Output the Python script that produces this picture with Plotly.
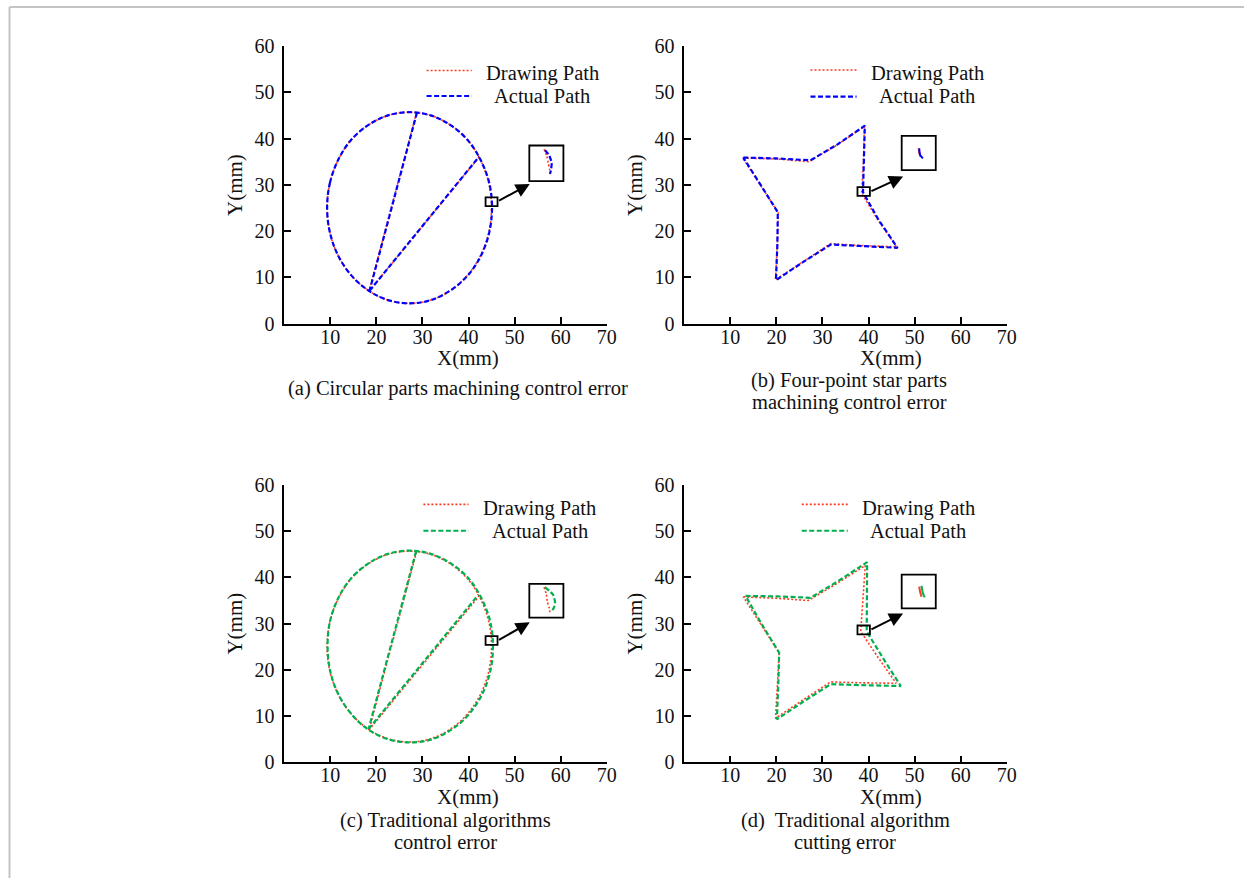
import plotly.graph_objects as go

W, H = 1244, 878
FONT = "Liberation Serif"
RED = "#FF3B1F"
BLUE = "#0000FF"
GREEN = "#00B050"

x_ticks = [10, 20, 30, 40, 50, 60, 70]
y_ticks = [0, 10, 20, 30, 40, 50, 60]

# ---- (a) circular part: drawing path and actual path (ellipse + two chords)
circ_draw_x = [9.3, 9.9, 11.7, 14.5, 18.2, 22.5, 27.2, 31.8, 36.1, 39.8, 42.6, 44.4, 45.0,
               44.4, 42.6, 39.8, 36.1, 31.8, 27.2, 22.5, 18.2, 14.5, 11.7, 9.9, 9.3,
               None, 28.7, 18.4, None, 18.4, 42.3]
circ_draw_y = [25.1, 30.4, 35.4, 39.7, 42.9, 45.0, 45.7, 45.0, 42.9, 39.7, 35.4, 30.4, 25.1,
               19.7, 14.7, 10.5, 7.2, 5.1, 4.4, 5.1, 7.2, 10.5, 14.7, 19.7, 25.1,
               None, 45.5, 7.0, None, 7.0, 36.0]
circ_act_x = [9.3, 9.9, 11.7, 14.5, 18.2, 22.5, 27.2, 31.8, 36.1, 39.8, 42.6, 44.5, 45.1,
              44.5, 42.7, 39.9, 36.1, 31.8, 27.2, 22.5, 18.2, 14.5, 11.7, 9.9, 9.3,
              None, 28.8, 18.5, None, 18.5, 42.3]
circ_act_y = [25.1, 30.4, 35.4, 39.7, 42.9, 45.0, 45.7, 45.0, 42.9, 39.7, 35.4, 30.4, 25.1,
              19.7, 14.7, 10.5, 7.2, 5.1, 4.4, 5.1, 7.2, 10.5, 14.7, 19.7, 25.1,
              None, 45.6, 7.1, None, 7.1, 36.1]
# (c) traditional algorithm actual path on the circular part
circ_trad_x = [9.4, 9.9, 11.7, 14.5, 18.2, 22.5, 27.2, 31.8, 36.2, 40.0, 42.8, 44.7, 45.3,
               44.7, 42.9, 40.0, 36.2, 31.8, 27.2, 22.5, 18.2, 14.6, 11.8, 10.0, 9.4,
               None, 28.6, 18.3, None, 18.3, 42.1]
circ_trad_y = [25.0, 30.4, 35.5, 39.8, 43.0, 45.1, 45.8, 45.1, 43.0, 39.8, 35.5, 30.5, 25.0,
               19.6, 14.6, 10.3, 7.0, 4.9, 4.3, 5.0, 7.1, 10.4, 14.6, 19.6, 25.0,
               None, 45.6, 7.2, None, 7.2, 36.2]

# ---- (b) four-point star
star_draw_x = [12.7, 20.0, 27.0, 33.0, 39.1, 38.9, 38.5, 42.0, 46.1, 38.0, 31.8, 25.5, 19.8, 20.2, 20.4, 16.5, 12.7]
star_draw_y = [35.8, 35.6, 35.0, 38.5, 42.6, 35.0, 28.2, 22.5, 16.6, 16.9, 17.3, 13.3, 9.5, 17.0, 24.0, 30.0, 35.8]
star_act_x = [12.8, 20.0, 27.4, 33.2, 39.2, 39.0, 38.8, 42.2, 46.3, 38.0, 31.8, 25.6, 19.9, 20.2, 20.3, 16.5, 12.8]
star_act_y = [35.9, 35.7, 35.3, 38.7, 42.8, 35.2, 28.4, 22.4, 16.4, 16.8, 17.1, 13.2, 9.4, 17.0, 24.1, 30.1, 35.9]
# (d) traditional algorithm actual path on the star
star_trad_x = [13.3, 20.2, 27.4, 33.4, 39.7, 39.7, 39.6, 43.3, 47.0, 38.5, 31.8, 25.8, 20.1, 20.4, 20.6, 16.8, 13.3]
star_trad_y = [36.0, 35.9, 35.6, 39.2, 43.3, 35.5, 28.3, 22.3, 16.5, 16.7, 16.9, 13.1, 9.3, 16.5, 23.7, 29.9, 36.0]
star_draw_d_x = [12.8, 20.0, 26.9, 33.0, 39.3, 38.8, 38.3, 42.0, 46.0, 38.5, 31.8, 25.6, 19.8, 20.2, 20.6, 16.6, 12.8]
star_draw_d_y = [35.8, 35.5, 35.0, 38.6, 42.6, 35.3, 28.3, 22.8, 17.1, 17.2, 17.4, 13.4, 9.5, 16.5, 23.7, 29.9, 35.8]

# ---- magnified insets (values shown inside the large boxes)
zoom_a_draw_x = [56.4, 57.0, 57.3, 57.6, 57.7]
zoom_a_draw_y = [37.7, 36.2, 34.7, 33.4, 32.3]
zoom_a_act_x = [56.6, 57.5, 58.05, 57.9, 57.7]
zoom_a_act_y = [37.5, 36.4, 34.7, 33.2, 32.4]
zoom_b_draw_x = [50.9, 51.0, 51.3]
zoom_b_draw_y = [37.9, 37.0, 36.1]
zoom_b_act_x = [51.0, 51.2, 51.8]
zoom_b_act_y = [37.9, 36.5, 35.7]
zoom_c_draw_x = [56.4, 56.9, 57.1, 57.5, 57.7]
zoom_c_draw_y = [37.9, 36.3, 34.8, 33.4, 32.2]
zoom_c_act_x = [56.6, 58.4, 58.8, 58.5, 57.9]
zoom_c_act_y = [37.9, 36.2, 34.4, 33.4, 32.6]
zoom_d_draw_x = [51.0, 51.2, 51.5]
zoom_d_draw_y = [38.0, 36.9, 35.8]
zoom_d_act_x = [51.5, 51.8, 52.2]
zoom_d_act_y = [38.2, 36.6, 35.7]

# ---- small box (on path), big box (inset), arrow [tail, head]
small_box = {"a": [43.7, 46.3, 25.4, 27.3], "b": [37.6, 40.3, 27.6, 29.5],
             "c": [43.7, 46.3, 25.4, 27.3], "d": [37.6, 40.3, 27.7, 29.6]}
big_box = {"a": [53.2, 60.6, 30.8, 38.5], "b": [47.2, 54.6, 33.2, 40.6],
           "c": [53.2, 60.6, 31.3, 38.6], "d": [47.2, 54.6, 33.3, 40.6]}
arrows = {"a": [46.3, 26.4, 53.3, 30.2], "b": [40.3, 28.5, 47.5, 31.8],
          "c": [46.3, 26.3, 53.3, 30.3], "d": [40.3, 28.6, 47.5, 32.2]}

legend_names = ["Drawing Path", "Actual Path"]
captions = {"a": ["(a) Circular parts machining control error"],
            "b": ["(b) Four-point star parts", "machining control error"],
            "c": ["(c) Traditional algorithms", "control error"],
            "d": ["(d)  Traditional algorithm", "cutting error"]}

# ---------------------------------------------------------------- layout
def px_x(p):
    return p / W

def px_y(p):
    return 1 - p / H

panels = {
    "a": dict(ax="", xdom=[284.3, 606.7], ydom=[323.7, 46.0]),
    "b": dict(ax="2", xdom=[684.3, 1006.7], ydom=[323.7, 46.0]),
    "c": dict(ax="3", xdom=[284.3, 606.7], ydom=[762.3, 485.0]),
    "d": dict(ax="4", xdom=[684.3, 1006.7], ydom=[762.3, 485.0]),
}

series = {
    "a": [(circ_draw_x, circ_draw_y, RED, "dot", True), (circ_act_x, circ_act_y, BLUE, "dash", True),
          (zoom_a_draw_x, zoom_a_draw_y, RED, "dot", True), (zoom_a_act_x, zoom_a_act_y, BLUE, "dash", True)],
    "b": [(star_draw_x, star_draw_y, RED, "dot", False), (star_act_x, star_act_y, BLUE, "dash", False),
          (zoom_b_draw_x, zoom_b_draw_y, RED, "solid", True), (zoom_b_act_x, zoom_b_act_y, BLUE, "solid", True)],
    "c": [(circ_draw_x, circ_draw_y, RED, "dot", True), (circ_trad_x, circ_trad_y, GREEN, "dash", True),
          (zoom_c_draw_x, zoom_c_draw_y, RED, "dot", True), (zoom_c_act_x, zoom_c_act_y, GREEN, "dash", True)],
    "d": [(star_draw_d_x, star_draw_d_y, RED, "dot", False), (star_trad_x, star_trad_y, GREEN, "dash", False),
          (zoom_d_draw_x, zoom_d_draw_y, RED, "solid", True), (zoom_d_act_x, zoom_d_act_y, GREEN, "solid", True)],
}

legend_pos = {  # line x0, x1, y_draw, y_act, text center x, text y draw, text y act
    "a": [30.9, 40.7, 54.7, 49.2, 56.0, 54.1, 49.2],
    "b": [27.4, 37.4, 54.8, 49.05, 52.8, 54.1, 49.1],
    "c": [30.2, 40.0, 55.8, 50.1, 55.5, 55.0, 50.1],
    "d": [25.5, 35.5, 55.8, 50.1, 50.8, 55.0, 50.1],
}
xtitle_pos = {"a": (468.0, 358.0), "b": (891.2, 358.0), "c": (468.0, 796.5), "d": (891.2, 796.5)}
ytitle_pos = {"a": (235.0, 185.0), "b": (635.0, 185.0), "c": (235.0, 623.6), "d": (635.0, 623.6)}
caption_pos = {"a": (458.0, 389.0), "b": (849.0, 380.5), "c": (445.0, 820.5), "d": (845.0, 820.5)}

DASH = {"dot": "2px,2px", "dash": "5px,2.5px", "solid": "solid"}
WID = {"dot": 1.6, "dash": 2.2, "solid": 2.0}

fig = go.Figure()
layout = dict(width=W, height=H, margin=dict(l=0, r=0, t=0, b=0, pad=0), autosize=False,
              paper_bgcolor="white", plot_bgcolor="white", showlegend=False)
shapes, annotations = [], []
tickfont = dict(family=FONT, size=20, color="#111111")

for key, p in panels.items():
    a = p["ax"]
    xa, ya = "x" + a, "y" + a
    layout["xaxis" + a] = dict(domain=[px_x(p["xdom"][0]), px_x(p["xdom"][1])], range=[0, 70],
                               tickvals=x_ticks, ticks="inside", ticklen=7, tickwidth=1.5,
                               tickcolor="black", showline=True, linecolor="black", linewidth=1.6,
                               showgrid=False, zeroline=False, tickfont=tickfont, anchor=ya,
                               fixedrange=True, ticklabelstandoff=-6, automargin=False)
    layout["yaxis" + a] = dict(domain=[px_y(p["ydom"][0]), px_y(p["ydom"][1])], range=[0, 60],
                               tickvals=y_ticks, ticks="inside", ticklen=7, tickwidth=1.5,
                               tickcolor="black", showline=True, linecolor="black", linewidth=1.6,
                               showgrid=False, zeroline=False, tickfont=tickfont, anchor=xa,
                               fixedrange=True, ticklabelstandoff=4, automargin=False)
    for sx, sy, col, st, smooth in series[key]:
        fig.add_trace(go.Scatter(x=sx, y=sy, mode="lines", xaxis=xa, yaxis=ya, hoverinfo="skip",
                                 line=dict(color=col, width=WID[st], dash=DASH[st],
                                           shape="spline" if smooth else "linear",
                                           smoothing=0.6 if len(sx) < 20 else 1.0),
                                 connectgaps=False))
    # legend (drawn by hand so the layout matches the original)
    lx0, lx1, yd, yact, tx, tyd, tya = legend_pos[key]
    act_col = BLUE if key in ("a", "b") else GREEN
    fig.add_trace(go.Scatter(x=[lx0, lx1], y=[yd, yd], mode="lines", xaxis=xa, yaxis=ya,
                             hoverinfo="skip", line=dict(color=RED, width=1.6, dash=DASH["dot"])))
    fig.add_trace(go.Scatter(x=[lx0, lx1], y=[yact, yact], mode="lines", xaxis=xa, yaxis=ya,
                             hoverinfo="skip", line=dict(color=act_col, width=2.2, dash=DASH["dash"])))
    for txt, ty in zip(legend_names, [tyd, tya]):
        annotations.append(dict(x=tx, y=ty, xref=xa, yref=ya, text=txt, showarrow=False,
                                font=dict(family=FONT, size=20.5, color="#111111"),
                                xanchor="center", yanchor="middle"))
    # boxes
    for bx in (small_box[key], big_box[key]):
        shapes.append(dict(type="rect", xref=xa, yref=ya, x0=bx[0], x1=bx[1], y0=bx[2], y1=bx[3],
                           line=dict(color="black", width=1.8), fillcolor="rgba(0,0,0,0)"))
    tx0, ty0, hx, hy = arrows[key]
    annotations.append(dict(x=hx, y=hy, ax=tx0, ay=ty0, xref=xa, yref=ya, axref=xa, ayref=ya,
                            text="", showarrow=True, arrowhead=2, arrowsize=1.4, arrowwidth=2,
                            arrowcolor="black", standoff=0, startstandoff=0))
    # axis titles
    xt = xtitle_pos[key]
    annotations.append(dict(x=px_x(xt[0]), y=px_y(xt[1]), xref="paper", yref="paper", text="X(mm)",
                            showarrow=False, font=dict(family=FONT, size=21, color="#111111"),
                            xanchor="center", yanchor="middle"))
    yt = ytitle_pos[key]
    annotations.append(dict(x=px_x(yt[0]), y=px_y(yt[1]), xref="paper", yref="paper", text="Y(mm)",
                            showarrow=False, textangle=-90,
                            font=dict(family=FONT, size=21, color="#111111"),
                            xanchor="center", yanchor="middle"))
    cp = caption_pos[key]
    for i, line in enumerate(captions[key]):
        annotations.append(dict(x=px_x(cp[0]), y=px_y(cp[1] + 21.5 * i), xref="paper", yref="paper",
                                text=line, showarrow=False,
                                font=dict(family=FONT, size=20.5, color="#111111"),
                                xanchor="center", yanchor="middle"))

# outer frame (top and left edges only)
shapes.append(dict(type="line", xref="paper", yref="paper", x0=px_x(9.5), x1=1.0,
                   y0=px_y(7), y1=px_y(7), line=dict(color="#C4C4C4", width=2)))
shapes.append(dict(type="line", xref="paper", yref="paper", x0=px_x(9.5), x1=px_x(9.5),
                   y0=0, y1=px_y(7), line=dict(color="#C4C4C4", width=2)))

layout["shapes"] = shapes
layout["annotations"] = annotations
fig.update_layout(**layout)
fig.write_html("out.html", config={"responsive": False})
